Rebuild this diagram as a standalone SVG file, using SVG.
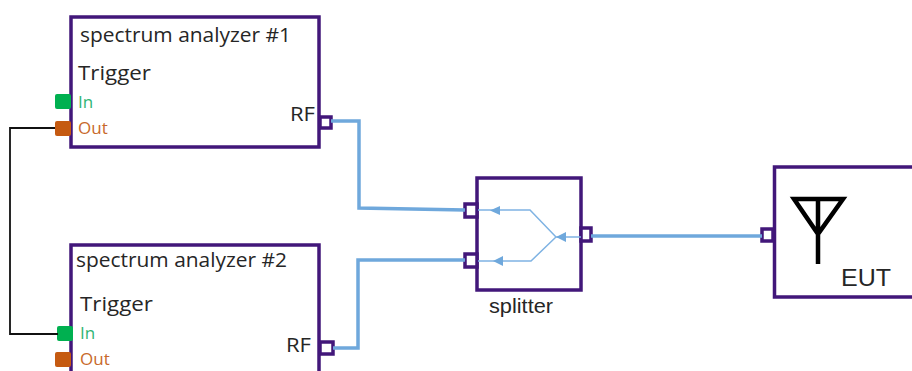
<svg xmlns="http://www.w3.org/2000/svg" width="912" height="371" viewBox="0 0 912 371">
<style>
text{font-family:"Open Sans","Noto Sans",sans-serif;fill:#262626}
.box{fill:#fff;stroke:#42177a;stroke-width:3.500}
.port{fill:#fff;stroke:#42177a;stroke-width:3.500}
.t{font-size:20.500px}
.s{font-size:17px}
.in{fill:#2fb574}
.out{fill:#c8692a}
.rf{fill:none;stroke:#6fa8dc;stroke-width:3.500}
.sig{fill:none;stroke:#7fb3e3;stroke-width:1.500}
.trig{fill:none;stroke:#111;stroke-width:1.800}
.lib{font-family:"Liberation Sans",Arial,sans-serif}
</style>
<g id="analyzer1">
<rect class="box" x="71" y="17" width="248" height="130"/>
<text class="t" x="80" y="42" textLength="211" lengthAdjust="spacingAndGlyphs">spectrum analyzer #1</text>
<text class="t" x="78" y="80" textLength="73" lengthAdjust="spacingAndGlyphs">Trigger</text>
<rect x="55" y="94" width="16" height="15" rx="2" fill="#00b050"/>
<text class="s in" x="78" y="108">In</text>
<rect x="55" y="121" width="16" height="15" rx="2" fill="#c55a11"/>
<text class="s out" x="78" y="134">Out</text>
<text class="t" x="290" y="121" textLength="25" lengthAdjust="spacingAndGlyphs">RF</text>
<rect class="port" x="320" y="117" width="11" height="11"/>
</g>
<g id="analyzer2">
<rect class="box" x="71" y="245" width="248" height="140"/>
<text class="t" x="76" y="267" textLength="211" lengthAdjust="spacingAndGlyphs">spectrum analyzer #2</text>
<text class="t" x="80" y="311" textLength="73" lengthAdjust="spacingAndGlyphs">Trigger</text>
<rect x="57" y="326" width="16" height="15" rx="2" fill="#00b050"/>
<text class="s in" x="80" y="339">In</text>
<rect x="55" y="352" width="16" height="15" rx="2" fill="#c55a11"/>
<text class="s out" x="80" y="365">Out</text>
<text class="t" x="286" y="352" textLength="25" lengthAdjust="spacingAndGlyphs">RF</text>
<rect class="port" x="320" y="342" width="13" height="12"/>
</g>
<g id="splitter">
<rect class="box" x="477" y="178" width="104" height="112"/>
<rect class="port" x="465" y="204" width="12" height="13"/>
<rect class="port" x="465" y="254" width="12" height="13"/>
<rect class="port" x="581" y="228" width="10" height="13"/>
<path class="sig" d="M581,237H556M556,237L530,210H478M556,237L531,261H478"/>
<path d="M556,237L566,232V242Z M490,210.500L500,206V215Z M493,261L503,256V266Z" fill="#6fa8dc"/>
<text x="489" y="313" font-size="20" class="lib" textLength="64" lengthAdjust="spacingAndGlyphs">splitter</text>
</g>
<g id="eut">
<rect class="box" x="774.500" y="167" width="145" height="130"/>
<rect class="port" x="762" y="229" width="11" height="12"/>
<path d="M818,264V199M794,199H843L818,234Z" fill="none" stroke="#000" stroke-width="4.500"/>
<text x="841" y="286" font-size="24" class="lib" textLength="50" lengthAdjust="spacingAndGlyphs">EUT</text>
</g>
<g id="connectors">
<path class="trig" d="M55,128H10V334H58"/>
<path class="rf" d="M331,121H359V208L465,210"/>
<path class="rf" d="M333,348H358V260H465"/>
<path class="rf" d="M591,236H762"/>
</g>
</svg>
